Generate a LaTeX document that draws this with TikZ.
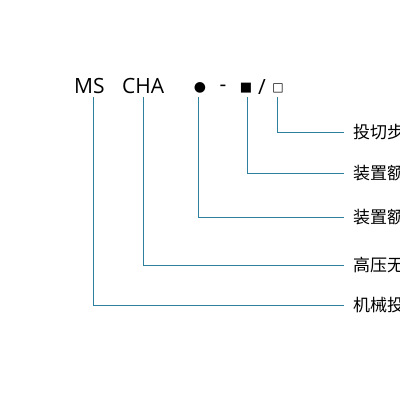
\documentclass[tikz,border=0pt]{standalone}
\usepackage{fontspec}
\setmainfont{Open Sans}
\newfontfamily\cjk{Noto Sans CJK SC}
\newfontfamily\symf{DejaVu Sans}
\definecolor{conncol}{RGB}{46,128,158}
\begin{document}
\begin{tikzpicture}[x=1pt,y=1pt,
  codetext/.style={font=\fontsize{21}{21}\selectfont, inner sep=0pt, anchor=base west},
  symtext/.style={inner sep=0pt, anchor=center},
  labeltext/.style={font=\cjk\fontsize{17}{17}\selectfont, anchor=west, inner xsep=9pt, inner ysep=0pt},
  conn/.style={draw=conncol, line width=1.3pt}]
\useasboundingbox (0,0) rectangle (400,-400);
\fill[white] (0,0) rectangle (400,-400);
% code
\node[codetext] (ms) at (74,-93.5) {MS};
\node[codetext] (cha) at (122,-93.5) {CHA};
\node[symtext, font=\symf\fontsize{14}{14}\selectfont] (dot) at (200,-88) {●};
\node[symtext, font=\fontsize{21}{21}\selectfont] (dash) at (223,-88.5) {-};
\node[symtext, font=\symf\fontsize{13}{13}\selectfont] (fsq) at (246,-88) {■};
\node[symtext, font=\fontsize{21}{21}\selectfont] (slash) at (262,-87) {/};
\node[symtext, font=\symf\fontsize{12}{12}\selectfont] (esq) at (278,-88) {□};
% connector tops
\coordinate (t1) at (93.5,-97);
\coordinate (t2) at (143.5,-97);
\coordinate (t3) at (198.5,-97);
\coordinate (t4) at (247.5,-97);
\coordinate (t5) at (277.5,-97);
% labels
\node[labeltext] (l1) at (344,-132.5) {投切步};
\node[labeltext] (l2) at (344,-173.5) {装置额};
\node[labeltext] (l3) at (344,-217.5) {装置额};
\node[labeltext] (l4) at (344,-265.5) {高压无};
\node[labeltext] (l5) at (344,-305.5) {机械投};
% connectors
\draw[conn] (t5) |- (l1.west);
\draw[conn] (t4) |- (l2.west);
\draw[conn] (t3) |- (l3.west);
\draw[conn] (t2) |- (l4.west);
\draw[conn] (t1) |- (l5.west);
\end{tikzpicture}
\end{document}
